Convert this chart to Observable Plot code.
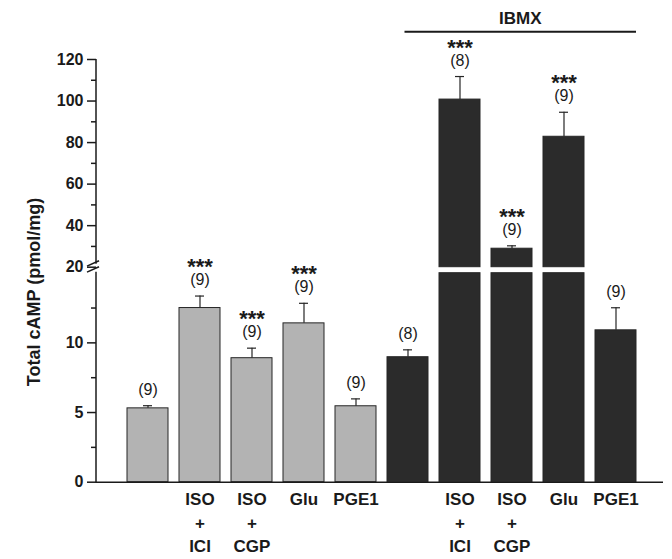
<!DOCTYPE html>
<html><head><meta charset="utf-8">
<script src="https://cdn.jsdelivr.net/npm/d3@7"></script>
<script src="https://cdn.jsdelivr.net/npm/@observablehq/plot@0.6"></script>
<style>body{margin:0;background:#fff;}</style>
</head><body><div id="chart"></div>
<script>
// ---- data ----
const ids = ["Basal", "ISO+ICI", "ISO+CGP", "Glu", "PGE1", "IBMX", "IBMX ISO+ICI", "IBMX ISO+CGP", "IBMX Glu", "IBMX PGE1"];
const labels = ["", "ISO\n+\nICI", "ISO\n+\nCGP", "Glu", "PGE1", "", "ISO\n+\nICI", "ISO\n+\nCGP", "Glu", "PGE1"];
const groups = ["Control", "Control", "Control", "Control", "Control", "IBMX", "IBMX", "IBMX", "IBMX", "IBMX"];
const means = [5.3, 12.5, 8.9, 11.4, 5.45, 8.97, 100.7, 28.9, 82.8, 10.9];
const sems = [0.19, 0.86, 0.72, 1.44, 0.53, 0.53, 11.1, 1.4, 11.8, 1.62];
const ns = [9, 9, 9, 9, 9, 8, 8, 9, 9, 9];
const sig = ["", "***", "***", "***", "", "", "***", "***", "***", ""];
const majorTicks = [0, 5, 10, 20, 40, 60, 80, 100, 120];
const minorTicks = [2.5, 7.5, 12.5, 30, 50, 70, 90, 110];
const breakLow = 15, breakHigh = 20, yMax = 120;
const yLabel = "Total cAMP (pmol/mg)";
const bracketLabel = "IBMX";

// ---- layout ----
const W = 672, H = 559;
const marginLeft = 96, marginRight = 9, marginTop = 59, marginBottom = 77;
const yRange = [481.7, 272.7, 266.7, 59];
const FONT = "'Liberation Sans', Arial, Helvetica, sans-serif";
const INK = "#1a1a1a";

const rows = ids.map((id, i) => ({
  id, label: labels[i], group: groups[i], mean: means[i], sem: sems[i],
  top: means[i] + sems[i], n: `(${ns[i]})`, sig: sig[i]
}));
const segments = rows.flatMap(d => d.mean > breakHigh
  ? [{id: d.id, group: d.group, y1: 0, y2: breakLow}, {id: d.id, group: d.group, y1: breakHigh, y2: d.mean}]
  : [{id: d.id, group: d.group, y1: 0, y2: d.mean}]);

const plot = Plot.plot({
  width: W, height: H, marginLeft, marginRight, marginTop, marginBottom,
  style: {fontFamily: FONT, background: "#fff", color: INK},
  x: {type: "band", domain: ids, paddingInner: 0.22, paddingOuter: 0.11, insetLeft: 22, insetRight: 19, axis: null},
  y: {type: "linear", domain: [0, breakLow, breakHigh, yMax], range: yRange, axis: null},
  color: {domain: ["Control", "IBMX"], range: ["#b3b3b3", "#2b2b2b"]},
  marks: [
    Plot.barY(segments, {x: "id", y1: "y1", y2: "y2", fill: "group", stroke: "#262626", strokeWidth: 1}),
    Plot.ruleX(rows, {x: "id", y1: "mean", y2: "top", stroke: "#262626", strokeWidth: 1.2}),
    Plot.tickY(rows, {x: "id", y: "top", stroke: "#262626", strokeWidth: 1.2, insetLeft: 16, insetRight: 16}),
    Plot.text(rows, {x: "id", y: "top", text: "n", dy: -16, fontSize: 16, fill: INK}),
    Plot.text(rows, {x: "id", y: "top", text: "sig", dy: -29, fontSize: 22, fontWeight: "bold", fill: INK}),
    Plot.text(rows, {x: "id", y: () => 0, text: "label", lineAnchor: "top", dy: 6, lineHeight: 1.39, fontSize: 17, fontWeight: "bold", fill: INK}),
    Plot.ruleY([0], {stroke: INK, strokeWidth: 1.6}),
    Plot.axisY({ticks: majorTicks, tickFormat: d => String(d), tickSize: 9, tickPadding: 4, fontSize: 16, fontWeight: "bold", strokeWidth: 1.5, label: null, stroke: INK, fill: INK}),
    Plot.axisY({ticks: minorTicks, tickSize: 5, text: null, strokeWidth: 1.5, label: null, stroke: INK}),
    Plot.text([yLabel], {frameAnchor: "left", textAnchor: "middle", rotate: -90, dx: -57, dy: 21, lineAnchor: "bottom", fontSize: 18, fontWeight: "bold", fill: INK})
  ]
});

// ---- decorations drawn from the plot's own scales ----
const svg = d3.select(plot);
const xs = plot.scale("x"), ys = plot.scale("y");
const yOf = v => ys.apply(v);
const g = svg.append("g").attr("stroke", INK).attr("stroke-width", 1.5).attr("fill", "none");
g.append("line").attr("x1", marginLeft).attr("x2", marginLeft).attr("y1", yOf(yMax)).attr("y2", yOf(breakHigh) - 3);
g.append("line").attr("x1", marginLeft).attr("x2", marginLeft).attr("y1", yOf(breakLow) - 1).attr("y2", yOf(0) + 0.8);
for (const v of [breakHigh, breakLow]) {
  const c = yOf(v) - 3.3;
  g.append("line").attr("x1", marginLeft - 9).attr("y1", c + 2.7).attr("x2", marginLeft + 3).attr("y2", c - 2.7);
}
const ib = ids.filter((id, i) => groups[i] === bracketLabel);
const bx1 = xs.apply(ib[0]) + xs.bandwidth / 2 - 3;
const bx2 = xs.apply(ib[ib.length - 1]) + xs.bandwidth;
svg.append("line").attr("x1", bx1).attr("x2", bx2).attr("y1", 31.7).attr("y2", 31.7)
  .attr("stroke", INK).attr("stroke-width", 2);
svg.append("text").attr("x", (bx1 + bx2) / 2).attr("y", 24).attr("text-anchor", "middle")
  .attr("font-size", 17).attr("font-weight", "bold").attr("fill", INK).text(bracketLabel);

document.getElementById("chart").appendChild(plot);
</script>
</body></html>
